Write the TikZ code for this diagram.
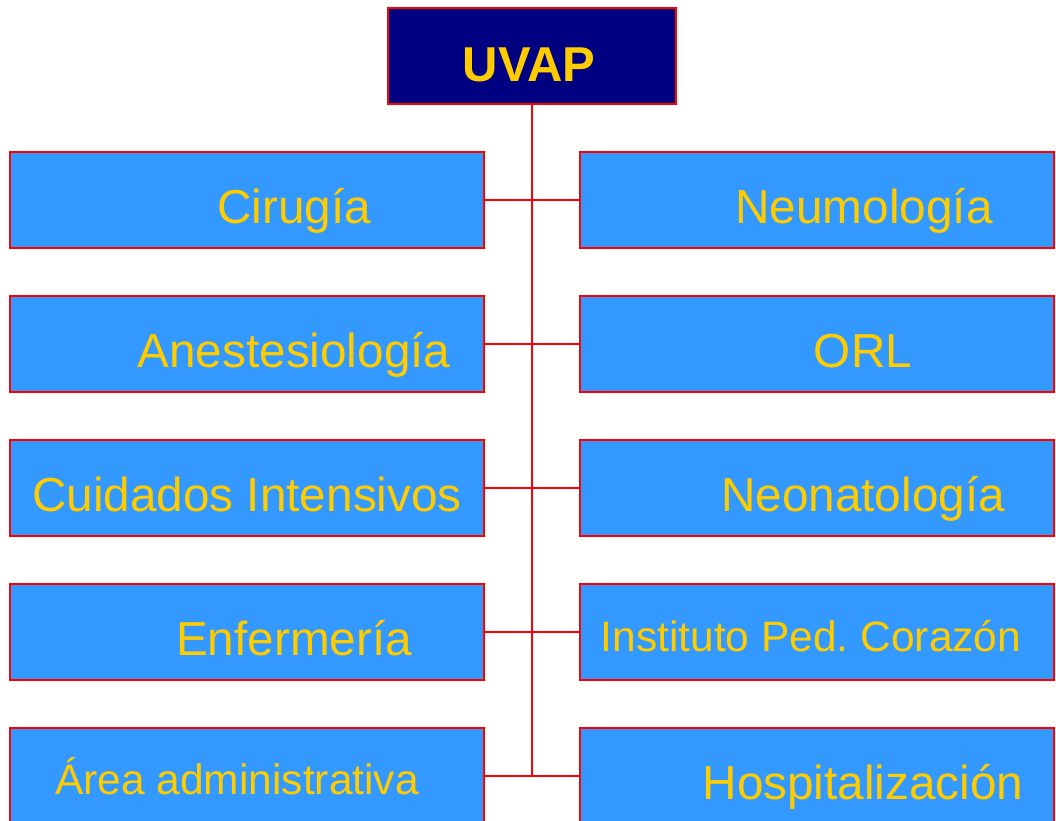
\documentclass[tikz,border=0pt]{standalone}
\usepackage{fontspec}
\setmainfont{Liberation Sans}
\usepackage{tikz}

\definecolor{uvred}{HTML}{FF0000}
\definecolor{uvblue}{HTML}{3399FF}
\definecolor{uvnavy}{HTML}{000080}
\definecolor{uvyellow}{HTML}{FFCC00}

\tikzset{
  unit/.style={draw=uvred, fill=uvblue, line width=2.5pt, minimum width=474pt,
    minimum height=96pt, inner sep=0pt},
  head/.style={unit, fill=uvnavy, minimum width=288pt},
  unitname/.style={text=uvyellow, anchor=base, inner sep=0pt,
    font=\fontsize{47.7}{50}\selectfont},
  smallname/.style={unitname, font=\fontsize{42.5}{46}\selectfont},
  link/.style={draw=uvred, line width=2.5pt}
}

\begin{document}
\begin{tikzpicture}[x=1pt,y=-1pt]
  \useasboundingbox (0,0) rectangle (1056,820);
  \clip (0,0) rectangle (1056,820);

  \node[head] (uvap) at (532,56) {};
  \node[unitname, font=\bfseries\fontsize{49}{52}\selectfont] (uvapname) at (529,81) {UVAP};

  % left column
  \node[unit] (cir) at (247,200) {};
  \node[unit] (ane) at (247,344) {};
  \node[unit] (cui) at (247,488) {};
  \node[unit] (enf) at (247,632) {};
  \node[unit] (adm) at (247,776) {};

  % right column
  \node[unit] (neu) at (817,200) {};
  \node[unit] (orl) at (817,344) {};
  \node[unit] (neo) at (817,488) {};
  \node[unit] (ipc) at (817,632) {};
  \node[unit] (hos) at (817,776) {};

  % trunk and branches
  \coordinate (foot) at (uvap.south |- adm.east);
  \draw[link] (uvap.south) -- (foot);
  \draw[link] (cir.east) -- (neu.west);
  \draw[link] (ane.east) -- (orl.west);
  \draw[link] (cui.east) -- (neo.west);
  \draw[link] (enf.east) -- (ipc.west);
  \draw[link] (adm.east) -- (hos.west);

  \node[unitname] (cirname) at (294,223) {Cirugía};
  \node[unitname] (anename) at (294,367) {Anestesiología};
  \node[unitname] (cuiname) at (247,511) {Cuidados Intensivos};
  \node[unitname] (enfname) at (294,655) {Enfermería};
  \node[smallname] (admname) at (237,794) {Área administrativa};

  \node[unitname] (neuname) at (864,223) {Neumología};
  \node[unitname] (orlname) at (863,367) {ORL};
  \node[unitname] (neoname) at (863,511) {Neonatología};
  \node[smallname] (ipcname) at (811,651) {Instituto Ped.\ Corazón};
  \node[unitname] (hosname) at (863,799) {Hospitalización};
\end{tikzpicture}
\end{document}
